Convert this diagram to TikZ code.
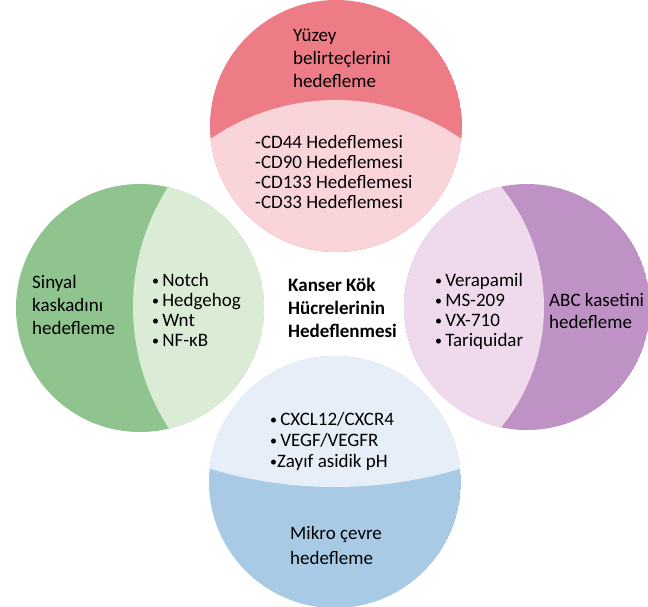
\documentclass[tikz,border=0pt]{standalone}
\usepackage{fontspec}
\setmainfont{Carlito}
\usepackage{tikz}
\usetikzlibrary{positioning}

\definecolor{redDark}{RGB}{238,124,134}
\definecolor{redLight}{RGB}{249,212,217}
\definecolor{greenDark}{RGB}{143,196,143}
\definecolor{greenLight}{RGB}{218,236,213}
\definecolor{purpleDark}{RGB}{190,146,196}
\definecolor{purpleLight}{RGB}{238,218,236}
\definecolor{blueDark}{RGB}{168,202,228}
\definecolor{blueLight}{RGB}{230,239,248}

\newcommand{\bul}{{\fontsize{14}{14}\selectfont\raisebox{0.15ex}{•}}\,}

\begin{document}
\begin{tikzpicture}[
    x=1pt, y=-1pt,
    title/.style={align=left, anchor=west, inner sep=0pt, font=\fontsize{19}{23}\selectfont},
    items/.style={align=left, anchor=west, inner sep=0pt, font=\fontsize{19}{20}\selectfont},
    centre/.style={align=left, anchor=west, inner sep=0pt, font=\fontsize{19}{23}\selectfont\bfseries}
]
\useasboundingbox[fill=white] (0,0) rectangle (648,606);

% 圆心
\coordinate (cTop) at (336,126);
\coordinate (cLeft) at (140,308);
\coordinate (cRight) at (527,307);
\coordinate (cBottom) at (335,482);

% 四个圆
\begin{scope}
  \clip (cTop) circle[radius=126];
  \fill[redDark] (cTop) circle[radius=126];
  \fill[redLight] (336,322) circle[radius=222];
\end{scope}
\begin{scope}
  \clip (cLeft) circle[radius=124];
  \fill[greenDark] (cLeft) circle[radius=124];
  \fill[greenLight] (356,307) circle[radius=223];
\end{scope}
\begin{scope}
  \clip (cRight) circle[radius=123];
  \fill[purpleDark] (cRight) circle[radius=123];
  \fill[purpleLight] (354,307) circle[radius=190];
\end{scope}
\begin{scope}
  \clip (cBottom) circle[radius=126];
  \fill[blueDark] (cBottom) circle[radius=126];
  \fill[blueLight] (335,53) circle[radius=434];
\end{scope}

% 文字
\node[title] (topTitle) at (293,58) {Yüzey\\belirteçlerini\\hedefleme};
\node[items] (topItems) at (255,172) {-CD44 Hedeflemesi\\-CD90 Hedeflemesi\\-CD133 Hedeflemesi\\-CD33 Hedeflemesi};

\node[title] (leftTitle) at (32,305) {Sinyal\\kaskadını\\hedefleme};
\node[items] (leftItems) at (152,310) {\bul Notch\\\bul Hedgehog\\\bul Wnt\\\bul NF-κB};

\node[items] (rightItems) at (435,311) {\bul Verapamil\\\bul MS-209\\\bul VX-710\\\bul Tariquidar};
\node[title, font=\fontsize{19}{22}\selectfont] (rightTitle) at (549,311) {ABC kasetini\\hedefleme};

\node[items, font=\fontsize{19}{21}\selectfont] (bottomItems) at (270,441) {\bul CXCL12/CXCR4\\\bul VEGF/VEGFR\\{\fontsize{14}{14}\selectfont\raisebox{0.15ex}{•}}Zayıf asidik pH};
\node[title, font=\fontsize{19}{25}\selectfont] (bottomTitle) at (290,545) {Mikro çevre\\hedefleme};

\node[centre] (main) at (288,308) {Kanser Kök\\Hücrelerinin\\Hedeflenmesi};

\end{tikzpicture}
\end{document}
